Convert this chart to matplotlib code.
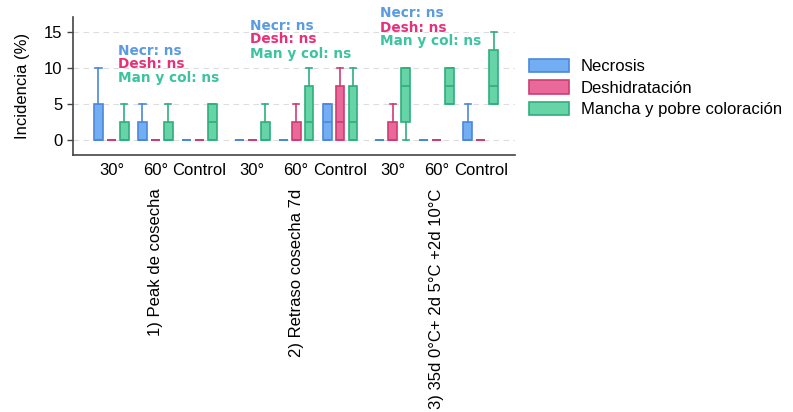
import matplotlib
matplotlib.use("Agg")
import matplotlib.pyplot as plt
from matplotlib.patches import Patch

plt.rcParams['font.family'] = ['Liberation Sans', 'DejaVu Sans']

# Storage temperature levels within each harvest treatment
temps = ["30°", "60°", "Control"]
treatments = ["1) Peak de cosecha", "2) Retraso cosecha 7d",
              "3) 35d 0°C+ 2d 5°C +2d 10°C"]
series = ["Necrosis", "Deshidratación", "Mancha y pobre coloración"]

# Box statistics (%), one value per temp x treatment (9 boxes per series)
necr_q1 = [0, 0, 0, 0, 0, 0, 0, 0, 0]
necr_med = [0, 0, 0, 0, 0, 2.5, 0, 0, 0]
necr_q3 = [5, 2.5, 0, 0, 0, 5, 0, 0, 2.5]
necr_lo = [0, 0, 0, 0, 0, 0, 0, 0, 0]
necr_hi = [10, 5, 0, 0, 0, 5, 0, 0, 5]

desh_q1 = [0, 0, 0, 0, 0, 0, 0, 0, 0]
desh_med = [0, 0, 0, 0, 0, 2.5, 0, 0, 0]
desh_q3 = [0, 0, 0, 0, 2.5, 7.5, 2.5, 0, 0]
desh_lo = [0, 0, 0, 0, 0, 0, 0, 0, 0]
desh_hi = [0, 0, 0, 0, 5, 10, 5, 0, 0]

manc_q1 = [0, 0, 0, 0, 0, 0, 2.5, 5, 5]
manc_med = [0, 0, 2.5, 0, 2.5, 2.5, 7.5, 7.5, 7.5]
manc_q3 = [2.5, 2.5, 5, 2.5, 7.5, 7.5, 10, 10, 12.5]
manc_lo = [0, 0, 0, 0, 0, 0, 0, 5, 5]
manc_hi = [5, 5, 5, 5, 10, 10, 10, 10, 15]

# Significance notes per treatment
notes = ["Necr: ns", "Desh: ns", "Man y col: ns"]

fills = ["#74aef2", "#e9699a", "#66d4a6"]
edges = ["#4a88dc", "#d03c72", "#2fae7e"]
note_colors = ["#5b9be0", "#e8307a", "#3cc3a0"]

stats_by_series = [
    (necr_q1, necr_med, necr_q3, necr_lo, necr_hi),
    (desh_q1, desh_med, desh_q3, desh_lo, desh_hi),
    (manc_q1, manc_med, manc_q3, manc_lo, manc_hi),
]

# x positions: 3 temps per treatment, extra gap between treatments
pos = []
for g in range(3):
    for t in range(3):
        pos.append(g * 3.2 + t)

fig = plt.figure(figsize=(7.93, 4.12), dpi=100)
ax = fig.add_axes([0.092, 0.624, 0.557, 0.335])

offsets = [-0.295, 0.0, 0.295]
for s, (q1, med, q3, lo, hi) in enumerate(stats_by_series):
    stats = []
    for i in range(len(pos)):
        stats.append(dict(q1=q1[i], med=med[i], q3=q3[i],
                          whislo=lo[i], whishi=hi[i], fliers=[]))
    ax.bxp(stats, positions=[p + offsets[s] for p in pos], widths=0.2,
           capwidths=0.14, patch_artist=True, showfliers=False,
           boxprops=dict(facecolor=fills[s], edgecolor=edges[s], linewidth=1.2),
           medianprops=dict(color=edges[s], linewidth=1.2),
           whiskerprops=dict(color=edges[s], linewidth=1.2),
           capprops=dict(color=edges[s], linewidth=1.2),
           manage_ticks=False)

ax.set_xlim(-0.875, 9.17)
ax.set_ylim(-2.1, 17.1)
ax.set_yticks([0, 5, 10, 15])
ax.tick_params(axis='y', labelsize=12, length=4, width=1, color='#444444')
ax.set_xticks(pos)
ax.set_xticklabels(temps * 3)
ax.tick_params(axis='x', labelsize=12, length=0, pad=6)
ax.set_ylabel("Incidencia (%)", fontsize=12, labelpad=10)
for y in [0, 5, 10, 15]:
    ax.axhline(y, color='#dddddd', linestyle=(0, (5, 4)), linewidth=0.8, zorder=0)
for side in ['top', 'right']:
    ax.spines[side].set_visible(False)
for side in ['left', 'bottom']:
    ax.spines[side].set_color('#444444')
    ax.spines[side].set_linewidth(1.2)

# Treatment labels below the temperature ticks
for g, name in enumerate(treatments):
    ax.annotate(name, xy=(pos[g * 3 + 1], -0.245),
                xycoords=('data', 'axes fraction'),
                rotation=90, ha='center', va='top', fontsize=12,
                annotation_clip=False)

# Significance notes per treatment
note_x = [0.15, 3.15, 6.1]
note_y = [[12.4, 10.5, 8.6], [15.9, 14.0, 12.0], [17.6, 15.6, 13.8]]
for g in range(3):
    for k in range(3):
        ax.text(note_x[g], note_y[g][k], notes[k], color=note_colors[k],
                fontsize=9.8, fontweight='bold', family='DejaVu Sans',
                ha='left', va='center', clip_on=False)

handles = [Patch(facecolor=fills[i], edgecolor=edges[i], linewidth=1.2)
           for i in range(3)]
fig.legend(handles, series, loc='upper left', bbox_to_anchor=(0.667, 0.858),
           frameon=False, fontsize=12, handlelength=2.4, handleheight=0.85,
           handletextpad=0.7, labelspacing=0.38, borderpad=0, borderaxespad=0)

fig.savefig("out.png", dpi=100)
